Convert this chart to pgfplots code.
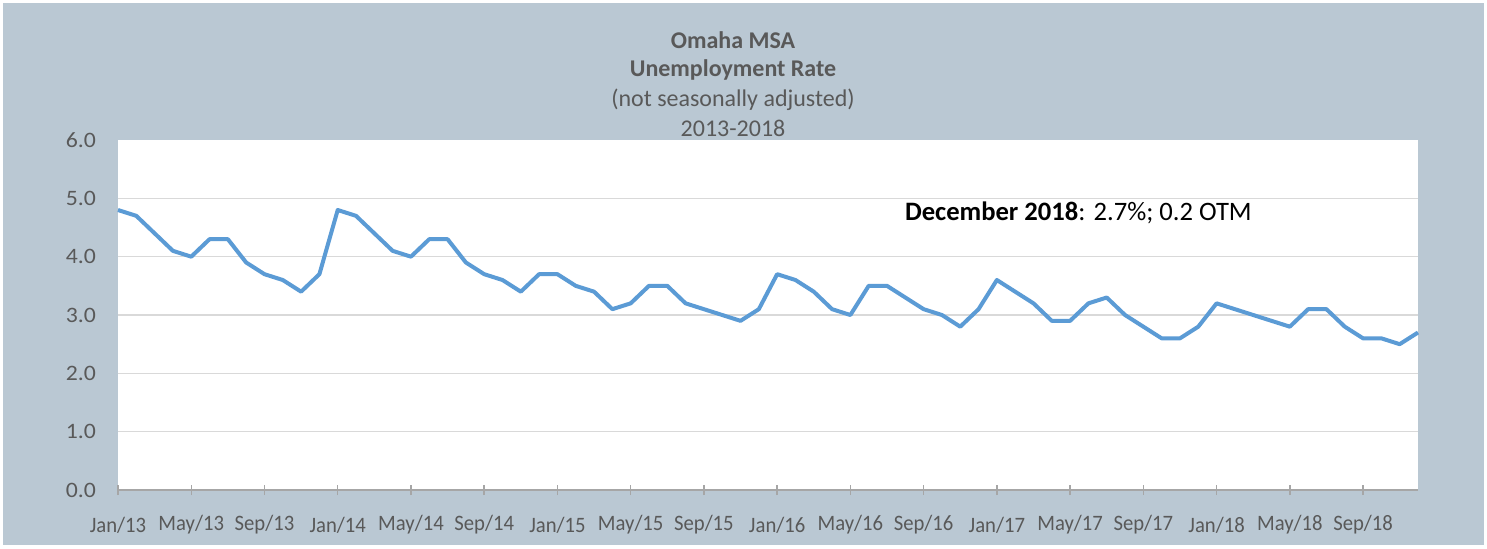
\documentclass[border=0pt]{standalone}
\usepackage{pgfplots}
\pgfplotsset{compat=1.18}
\usepackage{fontspec}
\setmainfont{Carlito}
\newfontfamily\narrowfont{Carlito}[FakeStretch=0.94]
\newfontfamily\widefont{Carlito}[FakeStretch=1.08]
\definecolor{bg}{HTML}{BAC8D3}
\definecolor{ln}{HTML}{5B9BD5}
\definecolor{txt}{HTML}{595959}
\definecolor{grd}{HTML}{D9D9D9}
\definecolor{axl}{HTML}{A6A6A6}
\begin{document}
\begin{tikzpicture}
\fill[white] (0pt,0pt) rectangle (743.5pt,274pt);
\fill[bg] (1.5pt,1.5pt) rectangle (742pt,272.5pt);
\node[font=\fontsize{12}{14}\selectfont\bfseries, text=txt] at (366.5pt,254pt) {Omaha MSA};
\node[font=\fontsize{12}{14}\selectfont\bfseries, text=txt] at (366.5pt,239pt) {Unemployment Rate};
\node[font=\fontsize{12}{14}\selectfont, text=txt] at (366.5pt,224pt) {(not seasonally adjusted)};
\node[font=\fontsize{12}{14}\selectfont, text=txt] at (366.5pt,210pt) {2013-2018};
\begin{axis}[
  at={(59pt,29pt)}, anchor=south west,
  scale only axis, width=650pt, height=175pt,
  xmin=0, xmax=71, ymin=0, ymax=6,
  axis background/.style={fill=white},
  axis line style={draw=none},
  xtick={0,4,...,68},
  xticklabels={Jan/13,May/13,Sep/13,Jan/14,May/14,Sep/14,Jan/15,May/15,Sep/15,Jan/16,May/16,Sep/16,Jan/17,May/17,Sep/17,Jan/18,May/18,Sep/18},
  xtick pos=left, xtick align=center, major tick length=5pt,
  x tick style={draw=axl, line width=0.7pt},
  ytick={0,1,...,6},
  y tick style={draw=none},
  extra y ticks={1,2,3,4,5},
  extra y tick labels={},
  extra y tick style={grid=major, major grid style={draw=grd, line width=0.8pt}},
  xticklabel style={font=\narrowfont\fontsize{11}{13}\selectfont, text=txt, anchor=center, yshift=-15pt},
  yticklabel style={font=\widefont\fontsize{11}{13}\selectfont, text=txt, anchor=east, xshift=-7.5pt,
    /pgf/number format/.cd, fixed, fixed zerofill, precision=1, assume math mode=true},
  clip=false,
]
\draw[axl, line width=1.2pt] (axis cs:0,0) -- (axis cs:71,0);
\addplot[ln, line width=2pt, line join=round, mark=none] coordinates {
(0,4.8)(1,4.7)(2,4.4)(3,4.1)(4,4.0)(5,4.3)(6,4.3)(7,3.9)(8,3.7)(9,3.6)(10,3.4)(11,3.7)
(12,4.8)(13,4.7)(14,4.4)(15,4.1)(16,4.0)(17,4.3)(18,4.3)(19,3.9)(20,3.7)(21,3.6)(22,3.4)(23,3.7)
(24,3.7)(25,3.5)(26,3.4)(27,3.1)(28,3.2)(29,3.5)(30,3.5)(31,3.2)(32,3.1)(33,3.0)(34,2.9)(35,3.1)
(36,3.7)(37,3.6)(38,3.4)(39,3.1)(40,3.0)(41,3.5)(42,3.5)(43,3.3)(44,3.1)(45,3.0)(46,2.8)(47,3.1)
(48,3.6)(49,3.4)(50,3.2)(51,2.9)(52,2.9)(53,3.2)(54,3.3)(55,3.0)(56,2.8)(57,2.6)(58,2.6)(59,2.8)
(60,3.2)(61,3.1)(62,3.0)(63,2.9)(64,2.8)(65,3.1)(66,3.1)(67,2.8)(68,2.6)(69,2.6)(70,2.5)(71,2.7)
};
\node[anchor=west, font=\fontsize{13.3}{15}\selectfont, text=black] at (axis cs:42.6,4.75) {\textbf{December 2018}: 2.7\%; 0.2 OTM};
\end{axis}
\end{tikzpicture}
\end{document}
